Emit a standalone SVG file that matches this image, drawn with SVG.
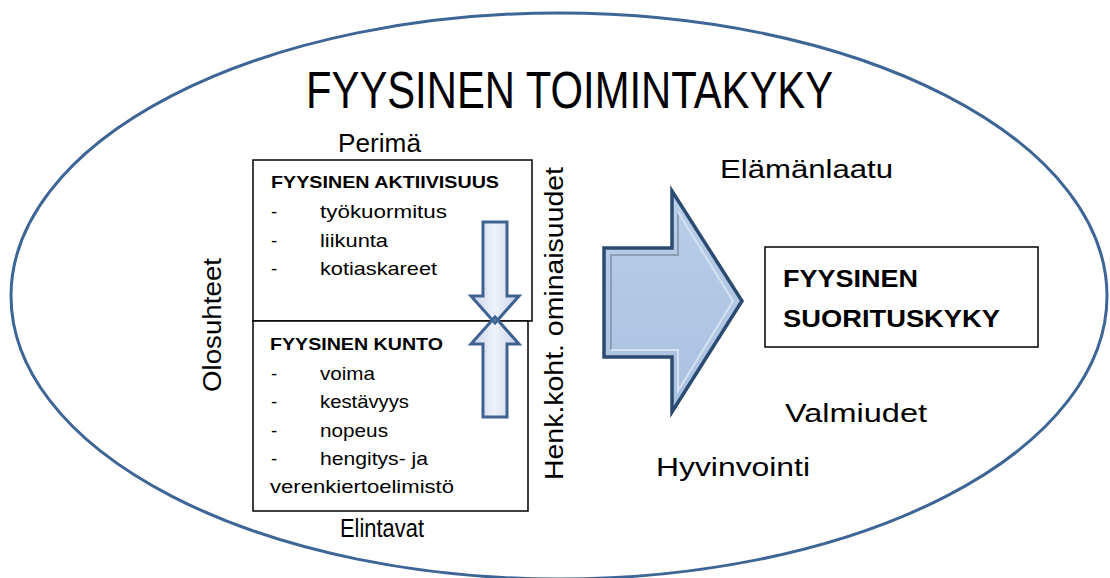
<svg xmlns="http://www.w3.org/2000/svg" width="1110" height="578" viewBox="0 0 1110 578">
<defs>
<style>
text{font-family:"Liberation Sans",Arial,sans-serif;fill:#000}
.lbl{font-size:25px}
.hd{font-size:17px;font-weight:bold}
.it{font-size:18.5px}
.box{fill:#fff;stroke:#000;stroke-width:1.5}
.sfill{fill:url(#gs);stroke:none}
.sline{fill:none;stroke:#3f6290;stroke-width:3;stroke-linejoin:miter}
</style>
<linearGradient id="gs" x1="0" y1="0" x2="1" y2="0">
<stop offset="0" stop-color="#c8d3ea"/><stop offset="0.5" stop-color="#eef2fa"/><stop offset="1" stop-color="#c8d3ea"/>
</linearGradient>
<linearGradient id="gb" x1="0" y1="0" x2="0" y2="1">
<stop offset="0" stop-color="#b9cee9"/><stop offset="1" stop-color="#a9c1e1"/>
</linearGradient>
</defs>
<rect width="1110" height="578" fill="#fff"/>
<g id="outer">
<ellipse cx="559" cy="296" rx="548" ry="283" fill="none" stroke="#3d6696" stroke-width="3"/>
<text x="306" y="108" style="font-size:51px" textLength="527" lengthAdjust="spacingAndGlyphs">FYYSINEN TOIMINTAKYKY</text>
</g>
<g id="labels">
<text class="lbl" x="338" y="152" textLength="83" lengthAdjust="spacingAndGlyphs">Perimä</text>
<text class="lbl" x="720" y="178" textLength="173" lengthAdjust="spacingAndGlyphs">Elämänlaatu</text>
<text class="lbl" x="785" y="422" textLength="142" lengthAdjust="spacingAndGlyphs">Valmiudet</text>
<text class="lbl" x="656" y="476" textLength="154" lengthAdjust="spacingAndGlyphs">Hyvinvointi</text>
<text class="lbl" x="340" y="537" textLength="84" lengthAdjust="spacingAndGlyphs">Elintavat</text>
<text class="lbl" transform="translate(221 392) rotate(-90)" textLength="134" lengthAdjust="spacingAndGlyphs">Olosuhteet</text>
<text class="lbl" transform="translate(563 480) rotate(-90)" textLength="313" lengthAdjust="spacingAndGlyphs">Henk.koht. ominaisuudet</text>
</g>
<g id="aktiivisuus">
<rect class="box" x="253" y="160" width="279" height="161"/>
<text class="hd" x="271" y="188" textLength="228" lengthAdjust="spacingAndGlyphs">FYYSINEN AKTIIVISUUS</text>
<text class="it" x="271" y="218">-</text><text class="it" x="320" y="218" textLength="127" lengthAdjust="spacingAndGlyphs">työkuormitus</text>
<text class="it" x="271" y="247">-</text><text class="it" x="320" y="247" textLength="68" lengthAdjust="spacingAndGlyphs">liikunta</text>
<text class="it" x="271" y="275">-</text><text class="it" x="320" y="275" textLength="117" lengthAdjust="spacingAndGlyphs">kotiaskareet</text>
</g>
<g id="kunto">
<rect class="box" x="253" y="321" width="275" height="190"/>
<text class="hd" x="270" y="350" textLength="173" lengthAdjust="spacingAndGlyphs">FYYSINEN KUNTO</text>
<text class="it" x="271" y="380">-</text><text class="it" x="320" y="380" textLength="55" lengthAdjust="spacingAndGlyphs">voima</text>
<text class="it" x="271" y="408">-</text><text class="it" x="320" y="408" textLength="89" lengthAdjust="spacingAndGlyphs">kestävyys</text>
<text class="it" x="271" y="437">-</text><text class="it" x="320" y="437" textLength="68" lengthAdjust="spacingAndGlyphs">nopeus</text>
<text class="it" x="271" y="465">-</text><text class="it" x="320" y="465" textLength="108" lengthAdjust="spacingAndGlyphs">hengitys- ja</text>
<text class="it" x="270" y="493" textLength="184" lengthAdjust="spacingAndGlyphs">verenkiertoelimistö</text>
</g>
<g id="suorituskyky">
<rect class="box" x="765" y="247" width="273" height="100"/>
<text x="783" y="287" style="font-size:24px;font-weight:bold" textLength="135" lengthAdjust="spacingAndGlyphs">FYYSINEN</text>
<text x="783" y="327" style="font-size:24px;font-weight:bold" textLength="217" lengthAdjust="spacingAndGlyphs">SUORITUSKYKY</text>
</g>
<g id="connectors">
<polygon class="sfill" points="483,222 507,222 507,296 519,296 495,323 471,296 483,296"/>
<polygon class="sfill" points="483,417 507,417 507,344 519,344 495,317 471,344 483,344"/>
<polygon class="sline" points="483,222 507,222 507,296 519,296 495,323 471,296 483,296"/>
<polygon class="sline" points="483,417 507,417 507,344 519,344 495,317 471,344 483,344"/>
<g id="bigarrow">
<polygon points="604,248 672,248 672,191 742,301 672,412 672,357 604,357" fill="url(#gb)" stroke="#2c4b70" stroke-width="3.5" stroke-linejoin="miter"/>
<polyline points="611,350 611,255 678,255 678,212" fill="none" stroke="#8c9fb5" stroke-width="2"/>
<polyline points="611,350 678,350 678,391 733,301 678,212" fill="none" stroke="#d6e2f1" stroke-width="2"/>
</g>
</g>
</svg>
